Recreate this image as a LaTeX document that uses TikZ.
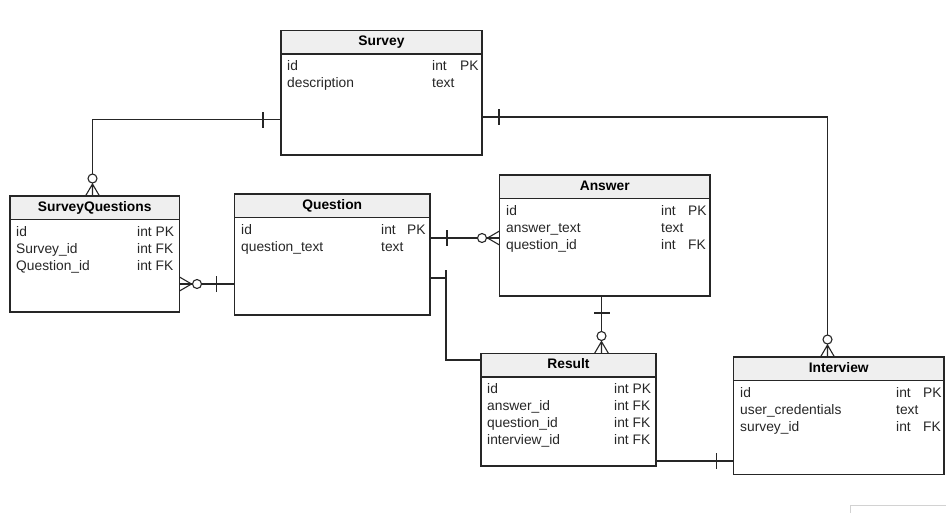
\documentclass[tikz,border=0pt]{standalone}
\usepackage{fontspec}
\setmainfont{Liberation Sans}
\definecolor{edgec}{HTML}{262626}
\definecolor{hdrfill}{HTML}{EFEFEF}
\definecolor{txtc}{HTML}{262626}
\tikzset{
  erline/.style={draw=edgec, line width=1.1pt},
  entbox/.style={draw=edgec, line width=1.1pt, anchor=north west, inner sep=0pt, outer sep=0pt},
  hdr/.style={draw=edgec, fill=hdrfill, line width=1.1pt, anchor=north west, inner sep=0pt, outer sep=0pt, minimum height=23.5pt},
  ttl/.style={anchor=base, inner sep=0pt, text=black, font=\fontsize{13.8}{16}\selectfont\bfseries},
  fld/.style={anchor=base west, inner sep=0pt, text=txtc, font=\fontsize{13.8}{16}\selectfont},
  pics/one/.style={code={\draw[erline] (#1,-8) -- (#1,8);}},
  pics/many/.style={code={
    \draw[erline] (12,0) -- (0,7) (12,0) -- (0,0) (12,0) -- (0,-7);
    \draw[erline, fill=white] (17.5,0) circle[radius=4.5pt];
  }},
}
\begin{document}
\begin{tikzpicture}[x=1pt, y=-1pt]
\useasboundingbox (0,0) rectangle (946,512);

% ---- Survey
\node[entbox, minimum width=201pt, minimum height=124.5pt] (survey) at (281,30.5) {};
\node[hdr, minimum width=201pt] (surveyhdr) at (survey.north west) {};
\node[ttl] (surveyttl) at ([yshift=-15pt]survey.north) {Survey};
\node[fld] (surveya1) at (287,70) {id};
\node[fld] (surveya2) at (287,87) {description};
\node[fld] (surveyb1) at (432,70) {int};
\node[fld] (surveyc1) at (460,70) {PK};
\node[fld] (surveyb2) at (432,87) {text};

% ---- SurveyQuestions
\node[entbox, minimum width=169.5pt, minimum height=116pt] (sq) at (10,196) {};
\node[hdr, minimum width=169.5pt] (sqhdr) at (sq.north west) {};
\node[ttl] (sqttl) at ([yshift=-15pt]sq.north) {SurveyQuestions};
\node[fld] (sqa1) at (16,236) {id};
\node[fld] (sqa2) at (16,253) {Survey\_id};
\node[fld] (sqa3) at (16,270) {Question\_id};
\node[fld] (sqb1) at (137,236) {int PK};
\node[fld] (sqb2) at (137,253) {int FK};
\node[fld] (sqb3) at (137,270) {int FK};

% ---- Question
\node[entbox, minimum width=195.5pt, minimum height=121pt] (question) at (234.5,194) {};
\node[hdr, minimum width=195.5pt] (questionhdr) at (question.north west) {};
\node[ttl] (questionttl) at ([yshift=-15pt]question.north) {Question};
\node[fld] (questiona1) at (241,234) {id};
\node[fld] (questiona2) at (241,251) {question\_text};
\node[fld] (questionb1) at (381,234) {int};
\node[fld] (questionc1) at (407,234) {PK};
\node[fld] (questionb2) at (381,251) {text};

% ---- Answer
\node[entbox, minimum width=210.5pt, minimum height=121pt] (answer) at (499.5,175) {};
\node[hdr, minimum width=210.5pt] (answerhdr) at (answer.north west) {};
\node[ttl] (answerttl) at ([yshift=-15pt]answer.north) {Answer};
\node[fld] (answera1) at (506,215) {id};
\node[fld] (answera2) at (506,232) {answer\_text};
\node[fld] (answera3) at (506,249) {question\_id};
\node[fld] (answerb1) at (661,215) {int};
\node[fld] (answerc1) at (688,215) {PK};
\node[fld] (answerb2) at (661,232) {text};
\node[fld] (answerb3) at (661,249) {int};
\node[fld] (answerc3) at (688,249) {FK};

% ---- Result
\node[entbox, minimum width=175pt, minimum height=112.5pt] (result) at (481,353.5) {};
\node[hdr, minimum width=175pt] (resulthdr) at (result.north west) {};
\node[ttl] (resultttl) at ([yshift=-15pt]result.north) {Result};
\node[fld] (resulta1) at (487,393) {id};
\node[fld] (resulta2) at (487,410) {answer\_id};
\node[fld] (resulta3) at (487,427) {question\_id};
\node[fld] (resulta4) at (487,444) {interview\_id};
\node[fld] (resultb1) at (614,393) {int PK};
\node[fld] (resultb2) at (614,410) {int FK};
\node[fld] (resultb3) at (614,427) {int FK};
\node[fld] (resultb4) at (614,444) {int FK};

% ---- Interview
\node[entbox, minimum width=210.5pt, minimum height=117.5pt] (interview) at (733.5,357) {};
\node[hdr, minimum width=210.5pt] (interviewhdr) at (interview.north west) {};
\node[ttl] (interviewttl) at ([yshift=-15pt]interview.north) {Interview};
\node[fld] (interviewa1) at (740,397) {id};
\node[fld] (interviewa2) at (740,414) {user\_credentials};
\node[fld] (interviewa3) at (740,431) {survey\_id};
\node[fld] (interviewb1) at (896,397) {int};
\node[fld] (interviewc1) at (923,397) {PK};
\node[fld] (interviewb2) at (896,414) {text};
\node[fld] (interviewb3) at (896,431) {int};
\node[fld] (interviewc3) at (923,431) {FK};

% ---- relationships
% Survey -- SurveyQuestions
\draw[erline] (survey.west |- 0,119.5) -| (sq.north -| 92.5,0);
\pic[rotate=180] at (survey.west |- 0,119.5) {one=18};
\pic[rotate=90] at (sq.north -| 92.5,0) {many};

% Survey -- Interview
\draw[erline] (survey.east |- 0,117) -| (interview.north -| 827.5,0);
\pic at (survey.east |- 0,117) {one=17};
\pic[rotate=90] at (interview.north -| 827.5,0) {many};

% Question -- SurveyQuestions
\draw[erline] (question.west |- 0,284) -- (sq.east |- 0,284);
\pic[rotate=180] at (question.west |- 0,284) {one=18};
\pic at (sq.east |- 0,284) {many};

% Question -- Answer
\draw[erline] (question.east |- 0,238) -- (answer.west |- 0,238);
\pic at (question.east |- 0,238) {one=17};
\pic[rotate=180] at (answer.west |- 0,238) {many};

% Question -- Result
\draw[erline] (question.east |- 0,278) -- (446,278) -- (446,360) -- (result.west |- 0,360);
\pic at (question.east |- 0,278) {one=16};

% Answer -- Result
\draw[erline] (answer.south -| 601.5,0) -- (result.north -| 601.5,0);
\pic[rotate=270] at (answer.south -| 601.5,0) {one=17};
\pic[rotate=90] at (result.north -| 601.5,0) {many};

% Result -- Interview
\draw[erline] (result.east |- 0,461) -- (interview.west |- 0,461);
\pic[rotate=180] at (interview.west |- 0,461) {one=17};

% frame edge at the lower right
\draw[gray!35, line width=0.8pt] (850,513) -- (850,505.5) -- (947,505.5);
\end{tikzpicture}
\end{document}
